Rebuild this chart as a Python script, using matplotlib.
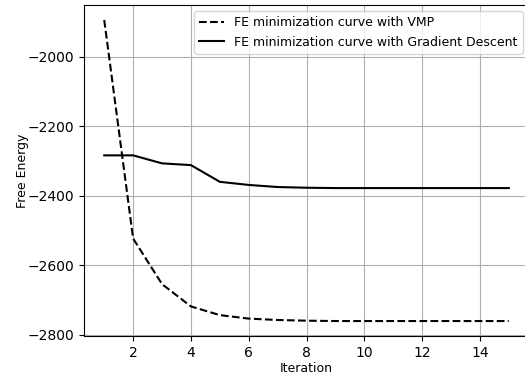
import matplotlib
matplotlib.use("Agg")
import matplotlib.pyplot as plt

iterations = list(range(1, 16))
fe_vmp = [-1895, -2523, -2654, -2718, -2743, -2753, -2757, -2759, -2760, -2760, -2760, -2760, -2760, -2760, -2760]
fe_gd = [-2284, -2284, -2307, -2312, -2360, -2369, -2375, -2377, -2378, -2378, -2378, -2378, -2378, -2378, -2378]

fig = plt.figure(figsize=(5.25, 3.74), dpi=100)
ax = fig.add_axes([84/525, 1-336/374, (529-84)/525, (336-5)/374])
ax.plot(iterations, fe_vmp, 'k--', lw=1.5, label='FE minimization curve with VMP')
ax.plot(iterations, fe_gd, 'k-', lw=1.5, label='FE minimization curve with Gradient Descent')
ax.set_xlim(0.3, 15.7)
ax.set_ylim(-2803, -1852)
ax.set_yticks([-2800, -2600, -2400, -2200, -2000])
ax.set_xticks([2, 4, 6, 8, 10, 12, 14])
ax.grid(True)
ax.set_xlabel('Iteration', fontsize=9, labelpad=1.5)
ax.set_ylabel('Free Energy', fontsize=9, labelpad=-1)
ax.legend(loc='upper right', fontsize=9)
fig.savefig('out.png', dpi=100)
